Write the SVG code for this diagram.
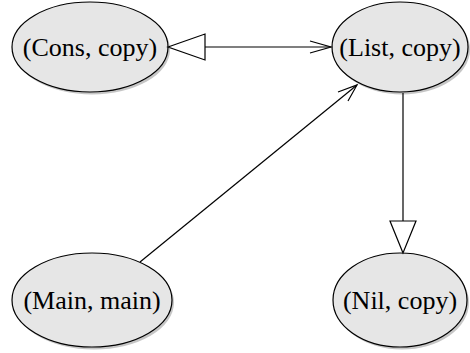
<svg xmlns="http://www.w3.org/2000/svg" width="470" height="353" viewBox="0 0 470 353">
<style>
.shadow{fill:#a0a0a0;stroke:none;opacity:0.6}
.node ellipse.body{fill:#e6e6e6;stroke:#000;stroke-width:1.2}
.node text{font-family:"Liberation Serif","Times New Roman",serif;font-size:26px;text-anchor:middle;fill:#000}
.edge{stroke:#000;stroke-width:1.2;fill:none}
.tri{fill:#fff;stroke:#000;stroke-width:1.2}
</style>
<rect width="470" height="353" fill="#fff"/>
<g id="node-cons" class="node">
<ellipse class="shadow" cx="92" cy="49.5" rx="78" ry="45"/>
<ellipse class="body" cx="90" cy="47" rx="78" ry="45"/>
<text x="90" y="56">(Cons, copy)</text>
</g>
<g id="node-list" class="node">
<ellipse class="shadow" cx="402" cy="49.5" rx="68" ry="45"/>
<ellipse class="body" cx="400" cy="47" rx="68" ry="45"/>
<text x="400" y="56">(List, copy)</text>
</g>
<g id="node-main" class="node">
<ellipse class="shadow" cx="94" cy="302.5" rx="80" ry="47"/>
<ellipse class="body" cx="92" cy="300" rx="80" ry="47"/>
<text x="92" y="309">(Main, main)</text>
</g>
<g id="node-nil" class="node">
<ellipse class="shadow" cx="402" cy="302.5" rx="67" ry="47"/>
<ellipse class="body" cx="400" cy="300" rx="67" ry="47"/>
<text x="400" y="309">(Nil, copy)</text>
</g>
<g id="connectors">
<line class="edge" x1="205" y1="47" x2="331" y2="47"/>
<polygon class="tri" points="168,47 205,34 205,60"/>
<polyline class="edge" points="310,41 331,47 310,53"/>
<line class="edge" x1="140" y1="262" x2="357" y2="85"/>
<polyline class="edge" points="338,92 357,85 348,101"/>
<line class="edge" x1="403" y1="93" x2="403" y2="221"/>
<polygon class="tri" points="403,253 390,221 416,221"/>
</g>
</svg>
